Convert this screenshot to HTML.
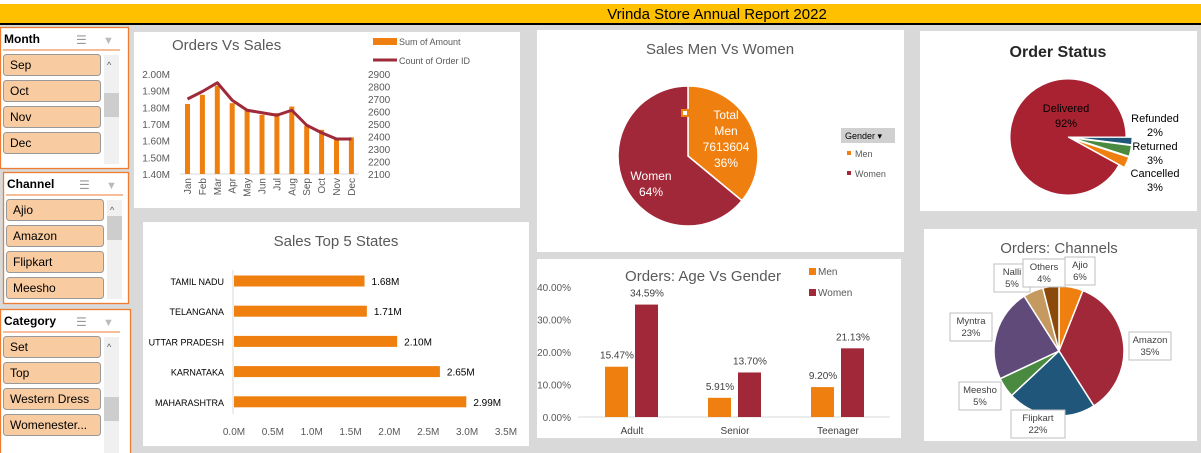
<!DOCTYPE html>
<html><head><meta charset="utf-8">
<style>
html,body{margin:0;padding:0;background:#d9d9d9;}
svg{display:block;font-family:"Liberation Sans",sans-serif;}
</style></head>
<body>
<svg id="s" width="1201" height="453" viewBox="0 0 1201 453" xmlns="http://www.w3.org/2000/svg">
<rect x="0" y="0" width="1201" height="453" fill="#d9d9d9"/>
<rect x="0" y="0" width="1201" height="5" fill="#ffffff"/>
<rect x="0" y="4" width="1201" height="20" fill="#ffc000"/>
<line x1="0" y1="24" x2="1201" y2="24" stroke="#000" stroke-width="2"/>
<text x="717" y="19" text-anchor="middle" font-size="15" fill="#000">Vrinda Store Annual Report 2022</text>
<g id="slicers"></g>
<!-- panels -->
<rect x="134" y="32" width="386" height="176" fill="#fff"/>
<rect x="143" y="222" width="386" height="224" fill="#fff"/>
<rect x="537" y="30" width="367" height="222" fill="#fff"/>
<rect x="537" y="259" width="364" height="179" fill="#fff"/>
<rect x="920" y="31" width="277" height="180" fill="#fff"/>
<rect x="924" y="229" width="273" height="212" fill="#fff"/>
<g id="charts"></g>
</svg>
<script>
const NS="http://www.w3.org/2000/svg";
const S=document.getElementById('s');
function el(tag,attrs,parent,text){const e=document.createElementNS(NS,tag);for(const k in attrs)e.setAttribute(k,attrs[k]);if(text!==undefined)e.textContent=text;(parent||S).appendChild(e);return e;}

// ---------- slicers ----------
const slicerTitles=['Month','Channel','Category'];
const slicerItems=[['Sep','Oct','Nov','Dec'],['Ajio','Amazon','Flipkart','Meesho'],['Set','Top','Western Dress','Womenester...']];
const slicerBoxes=[[0,27,128,141],[3,172,125,131],[0,309,130,150]];
slicerTitles.forEach((t,i)=>{
  const [x,y,w,h]=slicerBoxes[i];
  const g=el('g',{});
  
  
  el('rect',{x:x+0.5,y:y+0.5,width:w,height:h,fill:'#fff',stroke:'#ed7d31','stroke-width':1.3},g);
  el('text',{x:x+4,y:y+16,'font-size':12,'font-weight':'bold',fill:'#000'},g,t);
  el('line',{x1:x+3,y1:y+23,x2:x+120,y2:y+23,stroke:'#ed7d31'},g);
  el('text',{x:x+76,y:y+17,'font-size':12,fill:'#999'},g,'☰');
  el('text',{x:x+103,y:y+17,'font-size':11,fill:'#bbb'},g,'▼');
  el('rect',{x:x+104,y:y+28,width:15,height:h-32,fill:'#f0f0f0'},g);
  el('rect',{x:x+104,y:y+(i==1?44:i==0?66:88),width:15,height:24,fill:'#cdcdcd'},g);
  el('text',{x:x+107,y:y+41,'font-size':9,fill:'#555'},g,'^');
  slicerItems[i].forEach((it,j)=>{
    const b=el('g',{},g);
    
    
    el('rect',{x:x+3.5,y:y+27.5+j*26,width:97,height:21,rx:3,fill:'#f8cba0',stroke:'#999'},b);
    el('text',{x:x+10,y:y+42+j*26,'font-size':12,fill:'#000'},b,it);
  });
});

// ---------- Orders vs Sales ----------
const months=['Jan','Feb','Mar','Apr','May','Jun','Jul','Aug','Sep','Oct','Nov','Dec'];
const salesM=[1.82,1.875,1.93,1.825,1.79,1.755,1.765,1.805,1.69,1.665,1.61,1.62];
const orderCounts=[2700,2760,2830,2690,2610,2590,2570,2610,2490,2430,2380,2380];
const leftTicks=[1.4,1.5,1.6,1.7,1.8,1.9,2.0];
const rightTicks=[2100,2200,2300,2400,2500,2600,2700,2800,2900];
(function(){
  const g=el('g',{});
  
  
  el('text',{x:172,y:50,'font-size':15,fill:'#595959'},g,'Orders Vs Sales');
  const yL=v=>174-(v-1.4)/0.6*100, yR=v=>174-(v-2100)/800*100, xM=i=>187.5+i*14.9;
  leftTicks.forEach(t=>el('text',{x:170,y:yL(t)+4,'font-size':10,fill:'#595959','text-anchor':'end'},g,t.toFixed(2)+'M'));
  rightTicks.forEach(t=>el('text',{x:368,y:yR(t)+4,'font-size':10,fill:'#595959'},g,t));
  el('line',{x1:180,y1:174,x2:359,y2:174,stroke:'#d9d9d9'},g);
  salesM.forEach((v,i)=>{const r=el('rect',{x:xM(i)-2.5,y:yL(v),width:5,height:174-yL(v),fill:'#ef8010'},g);
    });
  el('polyline',{points:orderCounts.map((v,i)=>xM(i)+','+yR(v)).join(' '),fill:'none',stroke:'#9e2a3a','stroke-width':3,'stroke-linejoin':'round'},g);
  months.forEach((m,i)=>el('text',{transform:`translate(${xM(i)+3.5},178) rotate(-90)`,'font-size':10,fill:'#595959','text-anchor':'end'},g,m));
  el('rect',{x:373,y:38,width:24,height:7,fill:'#ef8010'},g);
  el('text',{x:399,y:45,'font-size':9,fill:'#595959'},g,'Sum of Amount');
  el('line',{x1:373,y1:60,x2:397,y2:60,stroke:'#9e2a3a','stroke-width':3},g);
  el('text',{x:399,y:64,'font-size':9,fill:'#595959'},g,'Count of Order ID');
})();

// ---------- Top 5 states ----------
const states=['TAMIL NADU','TELANGANA','UTTAR PRADESH','KARNATAKA','MAHARASHTRA'];
const stateSales=[1.68,1.71,2.10,2.65,2.99];
const stateTicks=[0,0.5,1,1.5,2,2.5,3,3.5];
(function(){
  const g=el('g',{});
  
  
  el('text',{x:336,y:246,'font-size':15,fill:'#595959','text-anchor':'middle'},g,'Sales Top 5 States');
  const x=v=>234+v*77.7, y=i=>281+i*30.2;
  el('line',{x1:233,y1:270,x2:233,y2:414,stroke:'#d9d9d9'},g);
  stateTicks.forEach(t=>el('text',{x:x(t),y:435,'font-size':10,fill:'#595959','text-anchor':'middle'},g,t.toFixed(1)+'M'));
  states.forEach((s,i)=>{
    el('text',{x:224,y:y(i)+4,'font-size':9,fill:'#000','text-anchor':'end'},g,s);
    const r=el('rect',{x:234,y:y(i)-5.5,width:x(stateSales[i])-234,height:11,fill:'#ef8010'},g);
    
    el('text',{x:x(stateSales[i])+7,y:y(i)+4,'font-size':10,fill:'#000'},g,stateSales[i].toFixed(2)+'M');
  });
})();

function arc(cx,cy,r,a0,a1){ // angles in degrees, clockwise from 12 o'clock
  const p=a=>[cx+r*Math.sin(a*Math.PI/180),cy-r*Math.cos(a*Math.PI/180)];
  const [x0,y0]=p(a0),[x1,y1]=p(a1);
  return `M${cx},${cy} L${x0},${y0} A${r},${r} 0 ${a1-a0>180?1:0} 1 ${x1},${y1} Z`;
}

// ---------- Men vs Women ----------
const genders=['Men','Women'];
const genderShare=[36,64];
const genderColors=['#ef8010','#a02838'];
(function(){
  const g=el('g',{});
  
  
  el('text',{x:720,y:54,'font-size':15,fill:'#595959','text-anchor':'middle'},g,'Sales Men Vs Women');
  let a=0;
  genderShare.forEach((v,i)=>{const a1=a+v*3.6;
    const p=el('path',{d:arc(688,156,70,a,a1),fill:genderColors[i],stroke:'#fff','stroke-width':1.5},g);
    a=a1;});
  el('rect',{x:682,y:110,width:6,height:6,fill:'#fff',stroke:'#ef8010','stroke-width':2},g);
  [['Total',119],['Men',135],['7613604',151],[genderShare[0]+'%',167]].forEach(([t,yy])=>el('text',{x:726,y:yy,'font-size':12,fill:'#fff','text-anchor':'middle'},g,t));
  el('text',{x:651,y:180,'font-size':12,fill:'#fff','text-anchor':'middle'},g,'Women');
  el('text',{x:651,y:196,'font-size':12,fill:'#fff','text-anchor':'middle'},g,genderShare[1]+'%');
  el('rect',{x:841,y:128,width:54,height:15,fill:'#d0d0d0'},g);
  el('text',{x:845,y:139,'font-size':9,fill:'#000'},g,'Gender  ▾');
  genders.forEach((n,i)=>{el('rect',{x:847,y:151+i*20,width:4,height:4,fill:genderColors[i]},g);
    el('text',{x:855,y:157+i*20,'font-size':9,fill:'#595959'},g,n);});
})();

// ---------- Age vs Gender ----------
const ageGroups=['Adult','Senior','Teenager'];
const menPct=[15.47,5.91,9.20];
const womenPct=[34.59,13.70,21.13];
const pctTicks=[0,10,20,30,40];
(function(){
  const g=el('g',{});
  
  
  el('text',{x:703,y:281,'font-size':15,fill:'#595959','text-anchor':'middle'},g,'Orders: Age Vs Gender');
  const y=v=>417-v*3.25, cx=i=>632+i*103;
  pctTicks.forEach(t=>el('text',{x:571,y:y(t)+4,'font-size':10,fill:'#595959','text-anchor':'end'},g,t.toFixed(2)+'%'));
  el('line',{x1:578,y1:417,x2:890,y2:417,stroke:'#d9d9d9'},g);
  ageGroups.forEach((a,i)=>{
    const r1=el('rect',{x:cx(i)-27,y:y(menPct[i]),width:23,height:417-y(menPct[i]),fill:'#ef8010'},g);
    
    const r2=el('rect',{x:cx(i)+3,y:y(womenPct[i]),width:23,height:417-y(womenPct[i]),fill:'#a02838'},g);
    
    el('text',{x:cx(i)-15,y:y(menPct[i])-8,'font-size':10,fill:'#404040','text-anchor':'middle'},g,menPct[i].toFixed(2)+'%');
    el('text',{x:cx(i)+15,y:y(womenPct[i])-8,'font-size':10,fill:'#404040','text-anchor':'middle'},g,womenPct[i].toFixed(2)+'%');
    el('text',{x:cx(i),y:434,'font-size':10,fill:'#404040','text-anchor':'middle'},g,a);
  });
  el('rect',{x:809,y:268,width:7,height:7,fill:'#ef8010'},g);
  el('text',{x:818,y:275,'font-size':10,fill:'#595959'},g,'Men');
  el('rect',{x:809,y:289,width:7,height:7,fill:'#a02838'},g);
  el('text',{x:818,y:296,'font-size':10,fill:'#595959'},g,'Women');
})();

// ---------- Order status ----------
const statuses=['Refunded','Returned','Cancelled','Delivered'];
const statusPct=[2,3,3,92];
const statusColors=['#1f567a','#4a8a40','#ef8010','#a82232'];
(function(){
  const g=el('g',{});
  
  
  el('text',{x:1058,y:57,'font-size':16,'font-weight':'bold',fill:'#262626','text-anchor':'middle'},g,'Order Status');
  let a=90;const cx=1068,cy=137,r=58;
  statusPct.forEach((v,i)=>{const a1=a+v*3.6;const mid=(a+a1)/2*Math.PI/180;
    const off=i<3?6:0;
    const p=el('path',{d:arc(cx+off*Math.sin(mid),cy-off*Math.cos(mid),r,a,a1),fill:statusColors[i],stroke:'#fff','stroke-width':1},g);
    a=a1;});
  el('text',{x:1066,y:112,'font-size':11,fill:'#000','text-anchor':'middle'},g,'Delivered');
  el('text',{x:1066,y:127,'font-size':11,fill:'#000','text-anchor':'middle'},g,statusPct[3]+'%');
  [[0,122],[1,150],[2,177]].forEach(([i,yy])=>{
    el('text',{x:1155,y:yy,'font-size':11,fill:'#000','text-anchor':'middle'},g,statuses[i]);
    el('text',{x:1155,y:yy+14,'font-size':11,fill:'#000','text-anchor':'middle'},g,statusPct[i]+'%');
  });
})();

// ---------- Channels ----------
const channels=['Ajio','Amazon','Flipkart','Meesho','Myntra','Nalli','Others'];
const channelPct=[6,35,22,5,23,5,4];
const channelColors=['#ef8010','#a02838','#1f567a','#4a8a40','#5f4a7a','#c49a60','#8b4a0a'];
const labelPos=[[1080,268],[1150,343],[1038,421],[980,393],[971,324],[1012,275],[1044,270]];
(function(){
  const g=el('g',{});
  
  
  el('text',{x:1059,y:253,'font-size':15,fill:'#595959','text-anchor':'middle'},g,'Orders: Channels');
  let a=0;const cx=1059,cy=351,r=65;
  channelPct.forEach((v,i)=>{const a1=a+v*3.6;
    const p=el('path',{d:arc(cx,cy,r,a,a1),fill:channelColors[i],stroke:'#fff','stroke-width':1.5},g);
    a=a1;});
  channels.forEach((c,i)=>{const [lx,ly]=labelPos[i];const w=Math.max(c.length*6+6,24);
    el('rect',{x:lx-w/2,y:ly-11,width:w,height:28,fill:'#fff',stroke:'#bfbfbf'},g);
    el('text',{x:lx,y:ly,'font-size':9.5,fill:'#404040','text-anchor':'middle'},g,c);
    el('text',{x:lx,y:ly+12,'font-size':9.5,fill:'#404040','text-anchor':'middle'},g,channelPct[i]+'%');});
})();
</script>
</body></html>
